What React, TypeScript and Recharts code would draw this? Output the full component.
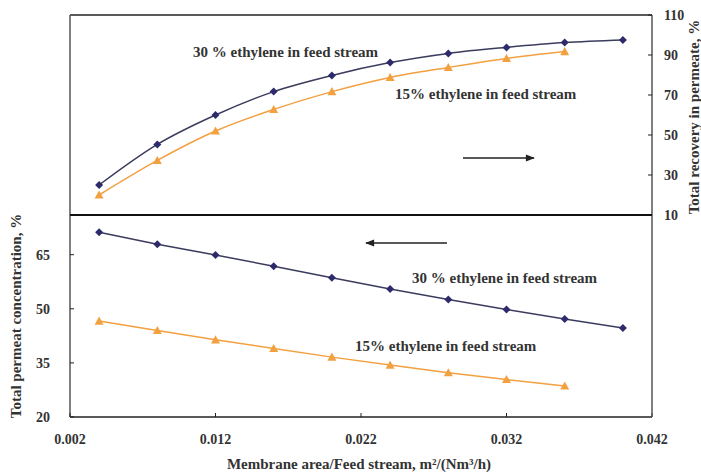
import { LineChart, Line, XAxis, YAxis } from 'recharts';

// membrane area / feed stream, m2/(Nm3/h)
const area30 = [0.004, 0.008, 0.012, 0.016, 0.02, 0.024, 0.028, 0.032, 0.036, 0.04];
const area15 = [0.004, 0.008, 0.012, 0.016, 0.02, 0.024, 0.028, 0.032, 0.036];

// total recovery in permeate, %
const recovery30 = [25, 45.3, 60, 71.7, 79.8, 86.2, 90.8, 93.8, 96.2, 97.5];
const recovery15 = [20, 37.3, 52, 62.8, 71.7, 78.8, 83.8, 88.3, 91.7];

// total permeate concentration, %
const conc30 = [71.2, 67.9, 64.9, 61.8, 58.6, 55.5, 52.6, 49.8, 47.2, 44.7];
const conc15 = [46.6, 44.0, 41.4, 39.0, 36.6, 34.4, 32.3, 30.4, 28.6];

const xTicks = [0.002, 0.012, 0.022, 0.032, 0.042];
const recoveryTicks = [10, 30, 50, 70, 90, 110];
const concTicks = [20, 35, 50, 65];

const W = 701;
const H = 475;
// plot box
const LEFT = 70;
const RIGHT = 652;
const TOP = 15;
const MID = 215;
const BOTTOM = 417;

const FONT = '"Liberation Serif", "Times New Roman", serif';
const NAVY = '#2d2b6b';
const NAVY_LINE = '#3b3b5e';
const ORANGE = '#f2a040';
const AXIS = '#222';

const toPoints = (xs: number[], ys: number[]) => xs.map((x, i) => ({ x, y: ys[i] }));

const Diamond = (props: any) => {
  const { cx, cy, index } = props;
  if (cx == null || cy == null) return <g key={index} />;
  const r = 4;
  return (
    <polygon
      key={index}
      points={`${cx},${cy - r} ${cx + r},${cy} ${cx},${cy + r} ${cx - r},${cy}`}
      fill={NAVY}
    />
  );
};

const Triangle = (props: any) => {
  const { cx, cy, index } = props;
  if (cx == null || cy == null) return <g key={index} />;
  const r = 4.5;
  return (
    <polygon
      key={index}
      points={`${cx},${cy - r} ${cx + r},${cy + r * 0.8} ${cx - r},${cy + r * 0.8}`}
      fill={ORANGE}
    />
  );
};

const tickText = { fontFamily: FONT, fontWeight: 700, fontSize: 14, fill: '#333' };

const RightTick = ({ x, y, payload }: any) => (
  <g>
    <line x1={x - 12} y1={y} x2={x - 16} y2={y} stroke={AXIS} />
    <text x={x} y={y} dy="0.35em" textAnchor="start" {...tickText}>
      {payload.value}
    </text>
  </g>
);

const LeftTick = ({ x, y, payload }: any) => (
  <g>
    <line x1={x + 20} y1={y} x2={x + 24} y2={y} stroke={AXIS} />
    <text x={x} y={y} dy="0.35em" textAnchor="end" {...tickText}>
      {payload.value}
    </text>
  </g>
);

const BottomTick = ({ x, y, payload }: any) => (
  <g>
    <line x1={x} y1={y - 18} x2={x} y2={y - 22} stroke={AXIS} />
    <text x={x} y={y} dy={9} textAnchor="middle" {...tickText}>
      {payload.value.toFixed(3)}
    </text>
  </g>
);

const labelStyle = { fontFamily: FONT, fontWeight: 700, fontSize: 15, fill: '#333' };

export default function App() {
  return (
    <div style={{ position: 'absolute', left: 0, top: 0, width: W, height: H, background: '#fff' }}>
      {/* top panel: recovery, right axis */}
      <div style={{ position: 'absolute', left: 0, top: 0 }}>
        <LineChart width={W} height={H} margin={{ top: TOP, right: W - RIGHT - 40, left: LEFT, bottom: H - MID }}>
          <XAxis
            xAxisId="main"
            type="number"
            dataKey="x"
            domain={[0.002, 0.042]}
            hide
          />
          <YAxis
            yAxisId="rec"
            orientation="right"
            type="number"
            domain={[10, 110]}
            ticks={recoveryTicks}
            interval={0}
            width={40}
            tickSize={0}
            tickMargin={12}
            tickLine={false}
            tick={<RightTick />}
            axisLine={{ stroke: '#555', strokeWidth: 1.5 }}
          />
          <Line
            xAxisId="main"
            yAxisId="rec"
            data={toPoints(area30, recovery30)}
            dataKey="y"
            type="monotone"
            stroke={NAVY_LINE}
            strokeWidth={1.5}
            dot={Diamond}
            isAnimationActive={false}
          />
          <Line
            xAxisId="main"
            yAxisId="rec"
            data={toPoints(area15, recovery15)}
            dataKey="y"
            type="monotone"
            stroke={ORANGE}
            strokeWidth={1.5}
            dot={Triangle}
            isAnimationActive={false}
          />
        </LineChart>
      </div>

      {/* bottom panel: concentration, left axis */}
      <div style={{ position: 'absolute', left: 0, top: 0 }}>
        <LineChart width={W} height={H} margin={{ top: MID, right: W - RIGHT, left: LEFT - 40, bottom: H - BOTTOM - 30 }}>
          <XAxis
            xAxisId="main"
            orientation="bottom"
            type="number"
            dataKey="x"
            domain={[0.002, 0.042]}
            ticks={xTicks}
            interval={0}
            height={30}
            tickSize={0}
            tickMargin={18}
            tickLine={false}
            tick={<BottomTick />}
            axisLine={{ stroke: AXIS, strokeWidth: 1.5 }}
          />
          <YAxis
            yAxisId="conc"
            orientation="left"
            type="number"
            domain={[20, 76]}
            ticks={concTicks}
            interval={0}
            width={40}
            tickSize={0}
            tickMargin={20}
            tickLine={false}
            tick={<LeftTick />}
            axisLine={{ stroke: '#555', strokeWidth: 1.5 }}
          />
          <Line
            xAxisId="main"
            yAxisId="conc"
            data={toPoints(area30, conc30)}
            dataKey="y"
            type="linear"
            stroke={NAVY_LINE}
            strokeWidth={1.5}
            dot={Diamond}
            isAnimationActive={false}
          />
          <Line
            xAxisId="main"
            yAxisId="conc"
            data={toPoints(area15, conc15)}
            dataKey="y"
            type="linear"
            stroke={ORANGE}
            strokeWidth={1.5}
            dot={Triangle}
            isAnimationActive={false}
          />
        </LineChart>
      </div>

      {/* frame, axis titles and annotations */}
      <svg width={W} height={H} style={{ position: 'absolute', left: 0, top: 0, pointerEvents: 'none' }}>
        <defs>
          <marker id="head" viewBox="0 0 10 10" refX="9" refY="5" markerWidth="7" markerHeight="6" orient="auto">
            <path d="M0,1 L10,5 L0,9 z" fill="#222" />
          </marker>
        </defs>
        <line x1={LEFT} y1={TOP} x2={RIGHT} y2={TOP} stroke={AXIS} strokeWidth={1.5} />
        <line x1={LEFT} y1={TOP} x2={LEFT} y2={MID} stroke="#555" strokeWidth={1.5} />
        <line x1={RIGHT} y1={MID} x2={RIGHT} y2={BOTTOM} stroke="#555" strokeWidth={1.5} />
        <line x1={LEFT} y1={MID} x2={RIGHT} y2={MID} stroke="#111" strokeWidth={2.2} />

        <text x={359} y={469} textAnchor="middle" {...labelStyle}>
          Membrane area/Feed stream, m²/(Nm³/h)
        </text>
        <text transform="translate(21,316) rotate(-90)" textAnchor="middle" {...labelStyle}>
          Total permeat concentration, %
        </text>
        <text transform="translate(699,117) rotate(-90)" textAnchor="middle" {...labelStyle}>
          Total recovery in permeate, %
        </text>

        <text x={193} y={57} {...labelStyle}>30 % ethylene in feed stream</text>
        <text x={395} y={99} {...labelStyle}>15% ethylene in feed stream</text>
        <text x={412} y={283} {...labelStyle}>30 % ethylene in feed stream</text>
        <text x={355} y={351} {...labelStyle}>15% ethylene in feed stream</text>
        <line x1={463} y1={158} x2={534} y2={158} stroke="#222" strokeWidth={1.5} markerEnd="url(#head)" />
        <line x1={447} y1={243} x2={366} y2={243} stroke="#222" strokeWidth={1.5} markerEnd="url(#head)" />
      </svg>
    </div>
  );
}
